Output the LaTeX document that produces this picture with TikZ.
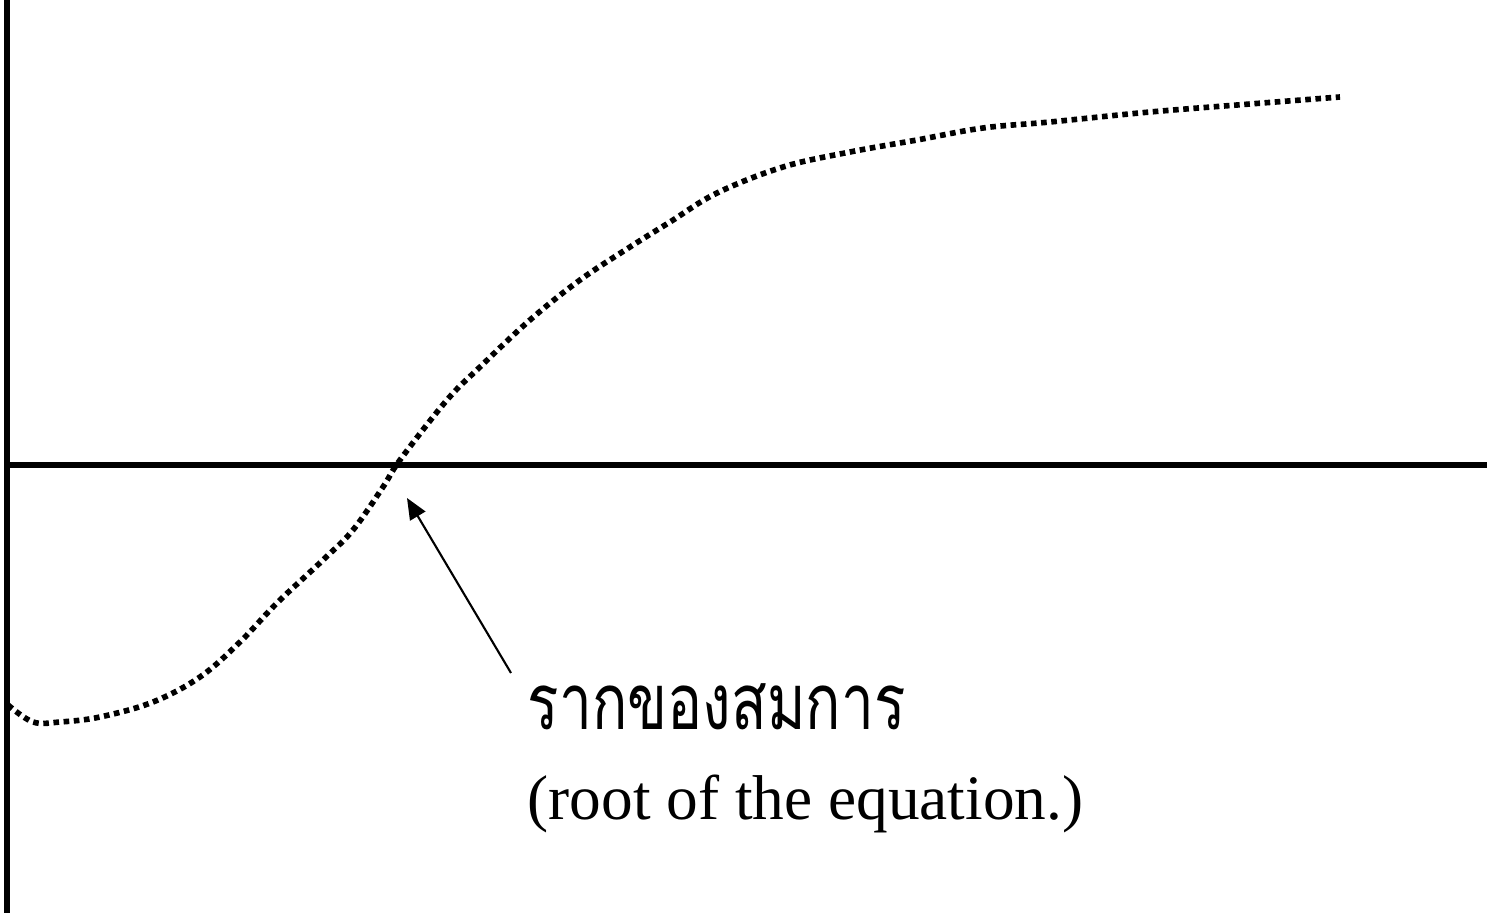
\documentclass[tikz,border=0pt]{standalone}
\usepackage{fontspec}
\setmainfont{Liberation Serif}
\newfontfamily\thaifont[Script=Thai]{Loma}
\usetikzlibrary{arrows.meta}

\begin{document}
\begin{tikzpicture}[x=0.01cm, y=-0.01cm, axis/.style={line width=1.5pt}, curve/.style={line width=1.6pt, dash pattern=on 1.6pt off 1.3pt}, pointer/.style={line width=0.6pt, -{Triangle[length=6pt, width=5pt]}}, label/.style={anchor=base west, inner sep=0pt}]
\useasboundingbox (0,0) rectangle (1487,913);
\draw[axis] (7,0) -- (7,913);
\draw[axis] (7,465) -- (1487,465);
\draw[curve] plot[smooth, tension=0.6] coordinates {(8,705) (33,722) (60,722) (100,717) (153,702) (200,677) (240,642) (277,603) (323,560) (353,530) (383,487) (400,460) (447,400) (480,367) (530,320) (580,280) (630,247) (670,222) (717,193) (783,167) (850,152) (917,140) (983,128) (1050,122) (1150,112) (1250,104) (1340,97)};
\node[label, font=\thaifont\fontsize{17}{20}\selectfont] (thai) at (527,730) {\scalebox{0.98}[1.3]{รากของสมการ}};
\node[label, font=\fontsize{18}{22}\selectfont] (eng) at (527,820) {(root of the equation.)};
\coordinate (root) at (407,498);
\coordinate (tail) at (511,673);
\draw[pointer] (tail) -- (root);
\end{tikzpicture}
\end{document}
